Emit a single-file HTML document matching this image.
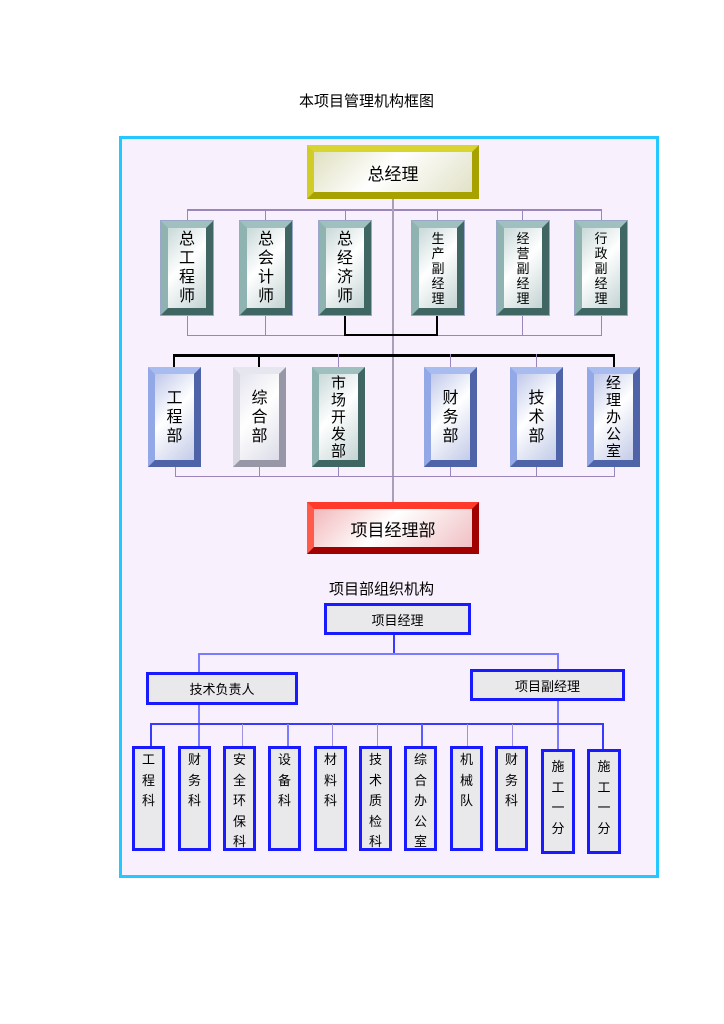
<!DOCTYPE html>
<html><head><meta charset="utf-8"><style>
body{margin:0;width:724px;height:1024px;background:#fff;position:relative;font-family:"Liberation Sans","Noto Sans CJK SC",sans-serif;overflow:hidden}
div{position:absolute;box-sizing:border-box}
.t{color:#000;white-space:nowrap}
.b{border-style:solid;border-width:7px;display:flex;align-items:center;justify-content:center;text-align:center;color:#000}
.v{font-size:16px;line-height:19px;width:1em;word-break:break-all;white-space:normal}
.g{border-color:#9fc0bf #3f6663 #3f6663 #8fb3b1;background:linear-gradient(135deg,#c9d8d8,#fff 45%,#c4d3d3);outline:1px solid #9aa7c9}
.bl{border-color:#a9bcef #4f63a8 #4f63a8 #93a8e6;background:linear-gradient(135deg,#c0c8ea,#fff 45%,#c3cbe8)}
.gr{border-color:#e6e6ef #9797a8 #9797a8 #d9d9e4;background:linear-gradient(135deg,#e4e4ee,#fff 45%,#dcdce8)}
.l{background:#9a86b8}
.k{background:#000}
.s{border:3px solid #1a1aff;background:#e9e9ec;display:flex;align-items:center;justify-content:center;font-size:13px;color:#000}
.sv{border:3px solid #1a1aff;background:#e9e9ec;font-size:13px;line-height:20.5px;text-align:center;padding-top:1px}
.u{background:#3a3aff}
</style></head><body>
<div class="t" style="left:299px;top:90px;font-size:15px">本项目管理机构框图</div>
<div style="left:119px;top:136px;width:540px;height:742px;border:3px solid #22c8ff;background:#f8f0fd"></div>

<div class="l" style="left:187px;top:209px;width:415px;height:2px"></div>
<div class="l" style="left:392px;top:198px;width:2px;height:304px;background:#a8a0b8"></div>
<div class="l" style="left:187px;top:209px;width:1px;height:126px"></div>
<div class="l" style="left:265px;top:209px;width:1px;height:126px"></div>
<div class="l" style="left:345px;top:209px;width:1px;height:12px"></div>
<div class="l" style="left:437px;top:209px;width:1px;height:12px"></div>
<div class="l" style="left:522px;top:209px;width:1px;height:126px"></div>
<div class="l" style="left:601px;top:209px;width:1px;height:126px"></div>
<div class="l" style="left:187px;top:335px;width:415px;height:1px"></div>
<div class="k" style="left:344px;top:314px;width:2px;height:22px"></div>
<div class="k" style="left:436px;top:314px;width:2px;height:22px"></div>
<div class="k" style="left:344px;top:334px;width:94px;height:2px"></div>
<div class="k" style="left:173px;top:354px;width:442px;height:3px"></div>
<div class="k" style="left:173px;top:354px;width:2px;height:13px"></div>
<div class="k" style="left:258px;top:354px;width:2px;height:13px"></div>
<div class="l" style="left:338px;top:354px;width:1px;height:13px"></div>
<div class="l" style="left:450px;top:354px;width:1px;height:13px"></div>
<div class="l" style="left:536px;top:354px;width:1px;height:13px"></div>
<div class="k" style="left:613px;top:354px;width:2px;height:13px"></div>
<div class="l" style="left:175px;top:476px;width:440px;height:1px"></div>
<div class="l" style="left:175px;top:466px;width:1px;height:10px"></div>
<div class="l" style="left:259px;top:466px;width:1px;height:10px"></div>
<div class="l" style="left:338px;top:466px;width:1px;height:10px"></div>
<div class="l" style="left:450px;top:466px;width:1px;height:10px"></div>
<div class="l" style="left:536px;top:466px;width:1px;height:10px"></div>
<div class="l" style="left:614px;top:466px;width:1px;height:10px"></div>

<div class="b" style="left:307px;top:145px;width:172px;height:54px;border-color:#d8d430 #a8a200 #a8a200 #d0cc28;background:linear-gradient(135deg,#dfe0c0,#fff 45%,#e2e2c8);font-size:17px">总经理</div>

<div class="b g" style="left:161px;top:221px;width:52px;height:94px"><span class="v">总工程师</span></div>
<div class="b g" style="left:240px;top:221px;width:52px;height:94px"><span class="v">总会计师</span></div>
<div class="b g" style="left:319px;top:221px;width:52px;height:94px"><span class="v">总经济师</span></div>
<div class="b g" style="left:412px;top:221px;width:52px;height:94px"><span class="v" style="font-size:13px;line-height:15px">生产副经理</span></div>
<div class="b g" style="left:497px;top:221px;width:52px;height:94px"><span class="v" style="font-size:13px;line-height:15px">经营副经理</span></div>
<div class="b g" style="left:575px;top:221px;width:52px;height:94px"><span class="v" style="font-size:13px;line-height:15px">行政副经理</span></div>

<div class="b bl" style="left:148px;top:367px;width:53px;height:100px"><span class="v">工程部</span></div>
<div class="b gr" style="left:233px;top:367px;width:53px;height:100px"><span class="v">综合部</span></div>
<div class="b g" style="left:312px;top:367px;width:53px;height:100px;outline:none"><span class="v" style="font-size:15px;line-height:17px">市场开发部</span></div>
<div class="b bl" style="left:424px;top:367px;width:53px;height:100px"><span class="v">财务部</span></div>
<div class="b bl" style="left:510px;top:367px;width:53px;height:100px"><span class="v">技术部</span></div>
<div class="b bl" style="left:587px;top:367px;width:53px;height:100px"><span class="v" style="font-size:15px;line-height:17px">经理办公室</span></div>

<div class="b" style="left:307px;top:502px;width:172px;height:52px;border-color:#ff3a2a #a00000 #a00000 #ff5a4a;background:linear-gradient(135deg,#f2b8bc,#fff 45%,#f0c0c4);font-size:17px">项目经理部</div>

<div class="t" style="left:329px;top:578px;font-size:15px">项目部组织机构</div>

<div class="u" style="left:393px;top:634px;width:2px;height:20px"></div>
<div style="left:198px;top:653px;width:361px;height:2px;background:#7b7bff"></div>
<div style="left:198px;top:653px;width:2px;height:19px;background:#7b7bff"></div>
<div style="left:557px;top:653px;width:2px;height:16px;background:#7b7bff"></div>
<div class="s" style="left:324px;top:603px;width:147px;height:32px">项目经理</div>
<div class="s" style="left:146px;top:672px;width:152px;height:33px">技术负责人</div>
<div class="s" style="left:470px;top:669px;width:155px;height:32px">项目副经理</div>
<div style="left:198px;top:705px;width:2px;height:41px;background:#7b7bff"></div>
<div style="left:557px;top:701px;width:2px;height:48px;background:#7b7bff"></div>
<div class="u" style="left:150px;top:723px;width:454px;height:2px"></div>
<div class="u" style="left:150px;top:723px;width:2px;height:23px"></div>
<div style="left:242px;top:724px;width:1px;height:22px;background:#a090e0"></div>
<div style="left:287px;top:724px;width:2px;height:22px;background:#7b7bff"></div>
<div style="left:332px;top:724px;width:1px;height:22px;background:#a090e0"></div>
<div style="left:377px;top:724px;width:1px;height:22px;background:#a090e0"></div>
<div style="left:421px;top:724px;width:2px;height:22px;background:#5a5aff"></div>
<div style="left:467px;top:724px;width:1px;height:22px;background:#a090e0"></div>
<div style="left:512px;top:724px;width:1px;height:22px;background:#a090e0"></div>
<div class="u" style="left:602px;top:723px;width:2px;height:31px"></div>

<div class="sv" style="left:132px;top:746px;width:33px;height:105px">工<br>程<br>科</div>
<div class="sv" style="left:178px;top:746px;width:33px;height:105px">财<br>务<br>科</div>
<div class="sv" style="left:223px;top:746px;width:33px;height:105px">安<br>全<br>环<br>保<br>科</div>
<div class="sv" style="left:268px;top:746px;width:33px;height:105px">设<br>备<br>科</div>
<div class="sv" style="left:314px;top:746px;width:33px;height:105px">材<br>料<br>科</div>
<div class="sv" style="left:359px;top:746px;width:33px;height:105px">技<br>术<br>质<br>检<br>科</div>
<div class="sv" style="left:404px;top:746px;width:33px;height:105px">综<br>合<br>办<br>公<br>室</div>
<div class="sv" style="left:450px;top:746px;width:33px;height:105px">机<br>械<br>队</div>
<div class="sv" style="left:495px;top:746px;width:33px;height:105px">财<br>务<br>科</div>
<div class="sv" style="left:541px;top:749px;width:34px;height:105px;padding-top:5px">施<br>工<br>一<br>分</div>
<div class="sv" style="left:587px;top:749px;width:34px;height:105px;padding-top:5px">施<br>工<br>一<br>分</div>
</body></html>
